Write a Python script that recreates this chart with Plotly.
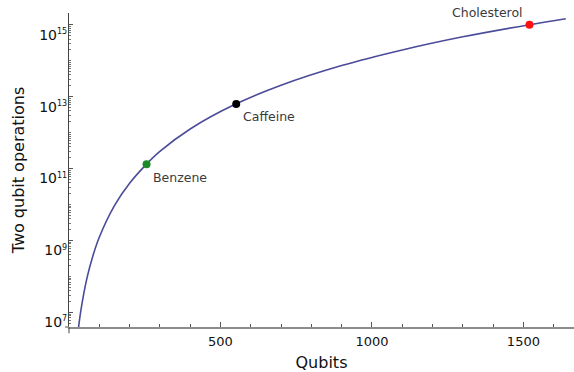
import numpy as np
import plotly.graph_objects as go

# Scaling curve: two-qubit operation count versus number of qubits
curve_qubits = [30, 40, 60, 80, 100, 150, 200, 256, 300, 400, 550, 700, 900, 1100, 1300, 1520, 1640]
curve_ops = [3.0e6, 1.26e7, 9.6e7, 4.0e8, 1.23e9, 9.3e9, 3.9e10, 1.33e11, 3.0e11,
             1.26e12, 6.2e12, 2.07e13, 7.3e13, 1.98e14, 4.6e14, 1.0e15, 1.46e15]

# Highlighted molecules
molecules = ["Benzene", "Caffeine", "Cholesterol"]
mol_qubits = [256, 552, 1520]
mol_ops = [1.32e11, 6.2e12, 1.0e15]
mol_colors = ["#1f8a2a", "#000000", "#ff1010"]

# Axis ticks
x_major = [500, 1000, 1500]
x_minor = [100, 200, 300, 400, 600, 700, 800, 900, 1100, 1200, 1300, 1400, 1600]
y_major = [1e7, 1e9, 1e11, 1e13, 1e15]
y_exponents = ["7", "9", "11", "13", "15"]
y_major_text = ["10<sup><span style='font-size:8px'>%s</span></sup>" % e for e in y_exponents]

FONT = "DejaVu Sans"

y_minor = []
for e in range(6, 16):
    for k in range(1, 10):
        v = k * 10.0 ** e
        if v not in y_major:
            y_minor.append(v)

fig = go.Figure()
fig.add_trace(go.Scatter(
    x=curve_qubits, y=curve_ops, mode="lines",
    line=dict(color="#4b4b9a", width=1.6, shape="spline", smoothing=1.0),
    hoverinfo="skip", showlegend=False,
))
fig.add_trace(go.Scatter(
    x=mol_qubits, y=mol_ops, mode="markers",
    marker=dict(color=mol_colors, size=8, line=dict(width=0)),
    showlegend=False, cliponaxis=False,
))

# Molecule labels: (xanchor, xshift, yshift)
label_pos = [("left", 4, -13), ("left", 5, -12), ("right", -4, 12)]
for name, qx, qy, (anc, dx, dy) in zip(molecules, mol_qubits, mol_ops, label_pos):
    fig.add_annotation(
        x=qx, y=np.log10(qy), text=name, showarrow=False,
        xanchor=anc, yanchor="middle", xshift=dx, yshift=dy,
        font=dict(family=FONT, size=12.5, color="#3a3a3a"),
    )

# Small axis overhangs at the origin corner
fig.add_shape(type="line", xref="paper", yref="paper", x0=0, x1=0, y0=0, y1=-0.02,
              line=dict(color="#444444", width=1))
fig.add_shape(type="line", xref="paper", yref="paper", x0=-0.008, x1=0, y0=0, y1=0,
              line=dict(color="#8c8c8c", width=1.5))

fig.update_layout(
    width=574, height=372,
    margin=dict(l=69, r=0, t=13, b=45),
    paper_bgcolor="white", plot_bgcolor="white",
    font=dict(family=FONT, color="#111111"),
    xaxis=dict(
        range=[0, 1667], showgrid=False, zeroline=False,
        showline=True, linecolor="#8c8c8c", linewidth=1.5,
        ticks="inside", ticklen=5, tickwidth=1, tickcolor="#555555",
        tickvals=x_major, ticktext=[str(v) for v in x_major],
        tickfont=dict(family=FONT, size=13, color="#111111"),
        ticklabelstandoff=2,
        minor=dict(tickvals=x_minor, ticks="inside", ticklen=3, tickcolor="#555555", tickwidth=1),
        title=dict(text="Qubits", font=dict(family=FONT, size=16, color="#111111"), standoff=8),
    ),
    yaxis=dict(
        type="log", range=[6.594, 15.325], showgrid=False, zeroline=False,
        showline=True, linecolor="#444444", linewidth=1,
        ticks="inside", ticklen=4, tickwidth=1, tickcolor="#555555",
        tickvals=y_major, ticktext=y_major_text,
        tickfont=dict(family=FONT, size=14, color="#111111"),
        ticklabelstandoff=-2, ticklabelshift=10,
        minor=dict(tickvals=y_minor, ticks="inside", ticklen=2, tickcolor="#777777", tickwidth=1),
        title=dict(text="Two qubit operations", font=dict(family=FONT, size=16, color="#111111"), standoff=10),
    ),
)

fig.write_html("out.html")
